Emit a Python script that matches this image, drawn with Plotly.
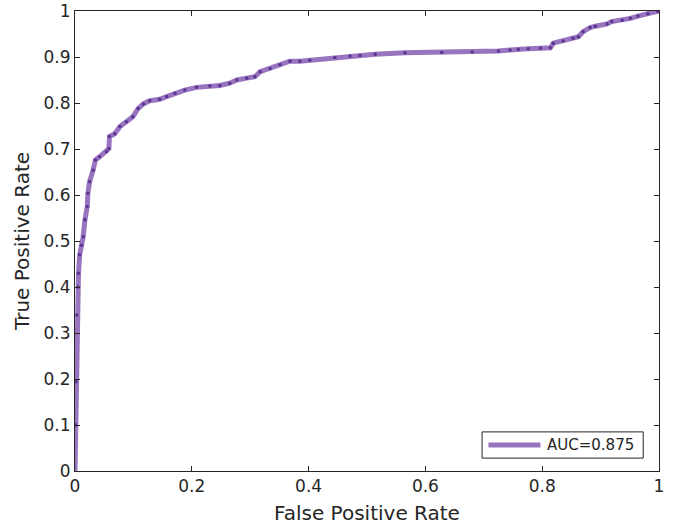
import plotly.graph_objects as go

# ROC curve points
fpr = [0.0, 0.001, 0.002, 0.003, 0.005, 0.006, 0.008, 0.011, 0.014, 0.017, 0.021, 0.022,
       0.025, 0.031, 0.035, 0.042, 0.054, 0.058, 0.059, 0.068, 0.077, 0.088, 0.099,
       0.108, 0.117, 0.128, 0.145, 0.157, 0.171, 0.188, 0.208, 0.231, 0.248, 0.265,
       0.277, 0.294, 0.308, 0.317, 0.334, 0.351, 0.368, 0.385, 0.402, 0.445, 0.471,
       0.488, 0.514, 0.565, 0.628, 0.680, 0.725, 0.745, 0.759, 0.776, 0.797, 0.814,
       0.819, 0.836, 0.853, 0.862, 0.870, 0.882, 0.891, 0.911, 0.919, 0.937, 0.951,
       0.964, 0.981, 0.998, 1.0]
tpr = [0.0, 0.10, 0.194, 0.339, 0.400, 0.430, 0.470, 0.491, 0.509, 0.546, 0.575, 0.604,
       0.629, 0.654, 0.676, 0.683, 0.694, 0.701, 0.727, 0.733, 0.749, 0.759, 0.770,
       0.788, 0.798, 0.805, 0.808, 0.814, 0.821, 0.828, 0.834, 0.837, 0.838, 0.843,
       0.850, 0.854, 0.857, 0.868, 0.875, 0.883, 0.891, 0.891, 0.893, 0.899, 0.902,
       0.903, 0.906, 0.909, 0.910, 0.911, 0.913, 0.915, 0.917, 0.918, 0.919, 0.920,
       0.930, 0.935, 0.941, 0.944, 0.955, 0.964, 0.967, 0.972, 0.977, 0.980, 0.984,
       0.989, 0.994, 0.999, 1.0]
auc_label = "AUC=0.875"

x_ticks = [0, 0.2, 0.4, 0.6, 0.8, 1]
y_ticks = [0, 0.1, 0.2, 0.3, 0.4, 0.5, 0.6, 0.7, 0.8, 0.9, 1]

line_color = "#9975bf"

fig = go.Figure()
fig.add_trace(go.Scatter(x=fpr, y=tpr, mode="lines", name=auc_label, showlegend=False,
                         line=dict(color=line_color, width=5)))
# darker specks where the thick line doubles back on itself
fig.add_trace(go.Scatter(x=fpr[1:-1], y=tpr[1:-1], mode="markers", showlegend=False,
                         marker=dict(color="#5c3492", size=3.5)))

axis_style = dict(range=[0, 1], showline=True, mirror="ticks", ticks="inside",
                  ticklen=5, tickcolor="#262626", linecolor="#262626", linewidth=1,
                  showgrid=False, zeroline=False, automargin=False,
                  ticklabeloverflow="allow",
                  tickfont=dict(size=17, color="#262626"))

fig.update_xaxes(tickvals=x_ticks, title=dict(text="False Positive Rate", font=dict(size=20),
                                              standoff=10), **axis_style)
fig.update_yaxes(tickvals=y_ticks, title=dict(text="True Positive Rate", font=dict(size=20),
                                              standoff=8), **axis_style)

# MATLAB-style legend box in the lower right
fig.add_shape(type="rect", xref="paper", yref="paper", x0=0.697, x1=0.973, y0=0.028, y1=0.085,
              line=dict(color="#262626", width=1), fillcolor="white", layer="above")
fig.add_shape(type="line", xref="paper", yref="paper", x0=0.708, x1=0.797, y0=0.0565, y1=0.0565,
              line=dict(color=line_color, width=5), layer="above")
fig.add_annotation(xref="paper", yref="paper", x=0.804, y=0.0565, xanchor="left", yanchor="middle",
                   text=auc_label, showarrow=False, font=dict(size=15, color="#262626"))

fig.update_layout(
    width=687, height=528,
    margin=dict(l=75, r=28, t=11, b=57),
    plot_bgcolor="white", paper_bgcolor="white",
    font=dict(family="DejaVu Sans", color="#262626"),
)

# drop the default body margin so the figure sits at the window corner
fig.write_html("out.html", config={"displayModeBar": False},
               post_script="document.body.style.margin = '0px';")
